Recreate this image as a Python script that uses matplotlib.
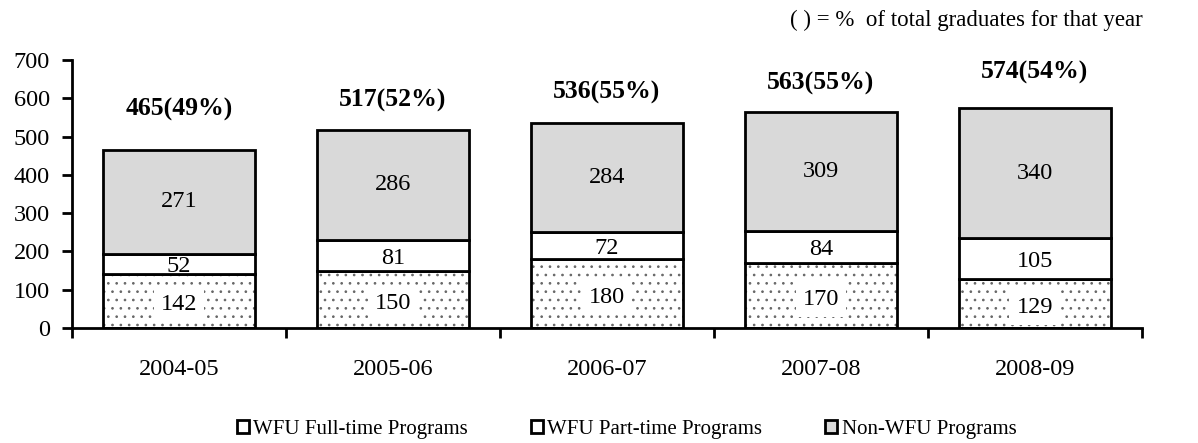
import matplotlib.pyplot as plt
import numpy as np

plt.rcParams['font.family'] = ['Liberation Serif', 'DejaVu Serif']
plt.rcParams['hatch.linewidth'] = 0.7

years = ['2004-05', '2005-06', '2006-07', '2007-08', '2008-09']
full_time = [142, 150, 180, 170, 129]
part_time = [52, 81, 72, 84, 105]
non_wfu = [271, 286, 284, 309, 340]
totals = [465, 517, 536, 563, 574]
pct = [49, 52, 55, 55, 54]

# where the bold total labels sit above each bar (offset above total)
label_gap = [106, 78, 78, 77, 94]

fig = plt.figure(figsize=(11.98, 4.43), dpi=100)
ax = fig.add_axes([0.060, 0.2596, 0.893, 0.605])

x = np.arange(len(years))
w = 0.71
full_time = np.array(full_time)
part_time = np.array(part_time)
non_wfu = np.array(non_wfu)

# dotted bottom segment
ax.bar(x, full_time, w, color='white', edgecolor='#666666', hatch='..', linewidth=0)
ax.bar(x, full_time, w, color='none', edgecolor='black', linewidth=2)
ax.bar(x, part_time, w, bottom=full_time, color='white', edgecolor='black', linewidth=2)
ax.bar(x, non_wfu, w, bottom=full_time + part_time, color='#d9d9d9', edgecolor='black', linewidth=2)

for i in range(len(years)):
    ax.text(x[i], full_time[i] / 2 - 10, str(full_time[i]), ha='center', va='center', fontsize=17.5,
            bbox=dict(facecolor='white', edgecolor='none', pad=5))
    ax.text(x[i], full_time[i] + part_time[i] / 2 - 8, str(part_time[i]), ha='center', va='center', fontsize=17.5)
    ax.text(x[i], full_time[i] + part_time[i] + non_wfu[i] / 2, str(non_wfu[i]), ha='center', va='center', fontsize=17.5)
    ax.text(x[i], totals[i] + label_gap[i], '%d(%d%%)' % (totals[i], pct[i]), ha='center', va='center',
            fontsize=18.5, fontweight='bold')

ax.set_xlim(-0.5, len(years) - 0.5)
ax.set_ylim(0, 700)
ax.set_yticks(np.arange(0, 701, 100))
ax.set_xticks(x)
ax.set_xticklabels(years)
ax.tick_params(axis='both', labelsize=17.5)
ax.tick_params(axis='x', length=0, pad=22)
ax.tick_params(axis='y', length=7, width=2, direction='out', pad=9)
ax.set_xticks(np.arange(-0.5, len(years)), minor=True)
ax.tick_params(axis='x', which='minor', length=7, width=2, direction='out')

for s in ['top', 'right']:
    ax.spines[s].set_visible(False)
ax.spines['left'].set_linewidth(2)
ax.spines['bottom'].set_linewidth(2)

fig.text(0.954, 0.955, '( ) = %  of total graduates for that year', ha='right', va='center', fontsize=16.5)

handles = [plt.Rectangle((0, 0), 1, 1, facecolor='white', edgecolor='black', linewidth=2),
           plt.Rectangle((0, 0), 1, 1, facecolor='white', edgecolor='black', linewidth=2),
           plt.Rectangle((0, 0), 1, 1, facecolor='#d9d9d9', edgecolor='black', linewidth=2)]
fig.legend(handles, ['WFU Full-time Programs', 'WFU Part-time Programs', 'Non-WFU Programs'],
           loc='center', bbox_to_anchor=(0.523, 0.03), ncol=3, frameon=False, fontsize=15,
           handlelength=0.6, handleheight=0.6, handletextpad=0.2, columnspacing=3.0)

fig.savefig('out.png', dpi=100)
